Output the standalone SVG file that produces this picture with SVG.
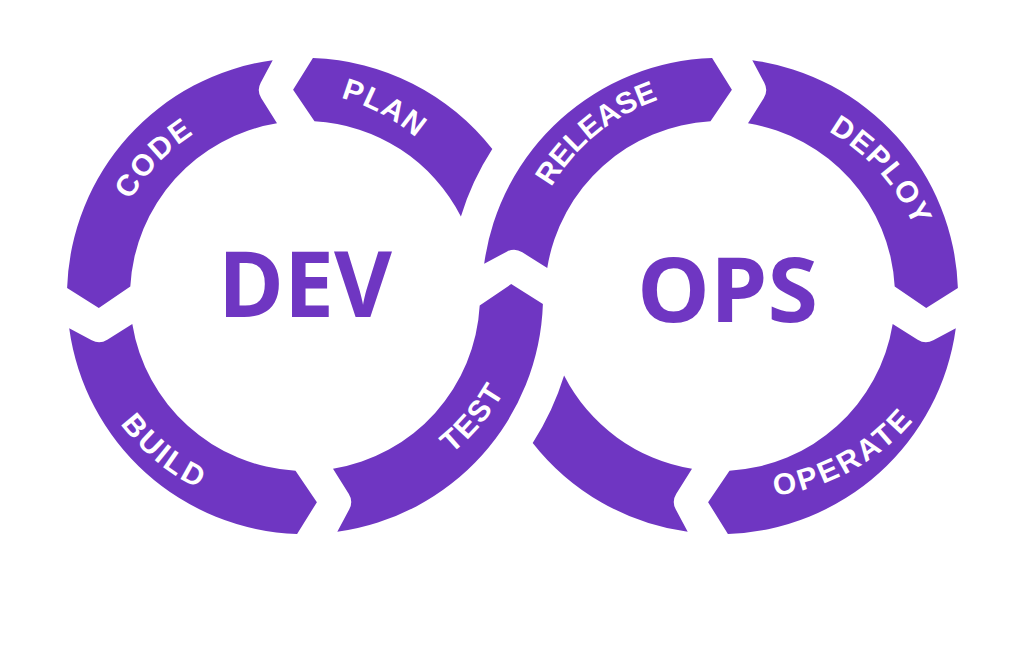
<svg xmlns="http://www.w3.org/2000/svg" width="1024" height="667" viewBox="0 0 1024 667">
  <style>
    .seg { fill: #6F36C2; }
    .lbl { fill: #FFFFFF; font-family: "Liberation Sans", Arial, sans-serif; font-weight: 700; font-size: 30px; text-anchor: middle; dominant-baseline: central; }
    .big { fill: #6F36C2; font-family: "Open Sans", "Liberation Sans", sans-serif; font-weight: 700; }
  </style>
  <defs>
    <path id="arcTop" d="M -210 0 A 210 210 0 0 1 210 0"/>
    <path id="arcBot" d="M -210 0 A 210 210 0 0 0 210 0"/>
  </defs>
  <rect width="1024" height="667" fill="#FFFFFF"/>

  <g id="connectors">
    <g id="plan">
      <path class="seg" d="M 492.3 149.1 A 238 238 0 0 0 312.9 58.1 L 293.1 89.8 L 314.5 121.3 A 175 175 0 0 1 460.9 216.5 A 271 271 0 0 1 492.3 149.1 Z"/>
      <text class="lbl" letter-spacing="2.72" transform="translate(287.52 289.55) rotate(28.24)"><textPath href="#arcTop" startOffset="50%">PLAN</textPath></text>
    </g>
    <g id="code">
      <path class="seg" d="M 272.7 60.2 A 238 238 0 0 0 67.1 288.1 L 98.8 307.9 L 130.3 286.5 A 175 175 0 0 1 277.0 123.3 L 261.3 98.3 Q 256.5 90.7 260.7 82.7 Z"/>
      <text class="lbl" letter-spacing="3.29" transform="translate(301.88 301.02) rotate(-45.81)"><textPath href="#arcTop" startOffset="50%">CODE</textPath></text>
    </g>
    <g id="build">
      <path class="seg" d="M 69.2 328.3 A 238 238 0 0 0 297.1 533.9 L 316.9 502.2 L 295.5 470.7 A 175 175 0 0 1 132.3 324.0 L 107.3 339.7 Q 99.7 344.5 91.7 340.3 Z"/>
      <text class="lbl" letter-spacing="1.57" transform="translate(296.80 290.96) rotate(39.65)"><textPath href="#arcBot" startOffset="50%">BUILD</textPath></text>
    </g>
    <g id="test">
      <path class="seg" d="M 337.3 531.8 A 238 238 0 0 0 542.9 303.9 L 511.2 284.1 L 479.7 305.5 A 175 175 0 0 1 333.0 468.75 L 348.7 493.7 Q 353.5 501.3 349.3 509.3 Z"/>
      <text class="lbl" letter-spacing="0.6" transform="translate(312.53 281.93) rotate(-49.6)"><textPath href="#arcBot" startOffset="50%">TEST</textPath></text>
    </g>
    <g id="release">
      <path class="seg" d="M 484.2 263.7 A 238 238 0 0 1 712.1 58.1 L 731.9 89.8 L 710.5 121.3 A 175 175 0 0 0 547.25 268.0 L 522.3 252.3 Q 514.7 247.5 506.7 251.7 Z"/>
      <text class="lbl" letter-spacing="1.03" transform="translate(723.1 287.94) rotate(-39.16)"><textPath href="#arcTop" startOffset="50%">RELEASE</textPath></text>
    </g>
    <g id="deploy">
      <path class="seg" d="M 752.3 60.2 A 238 238 0 0 1 957.9 288.1 L 926.2 307.9 L 894.7 286.5 A 175 175 0 0 0 748.0 123.3 L 763.7 98.3 Q 768.5 90.7 764.3 82.7 Z"/>
      <text class="lbl" letter-spacing="2.56" transform="translate(731.25 305.32) rotate(48.28)"><textPath href="#arcTop" startOffset="50%">DEPLOY</textPath></text>
    </g>
    <g id="operate">
      <path class="seg" d="M 955.8 328.3 A 238 238 0 0 1 727.9 533.9 L 708.1 502.2 L 729.5 470.7 A 175 175 0 0 0 892.7 324.0 L 917.7 339.7 Q 925.3 344.5 933.3 340.3 Z"/>
      <text class="lbl" letter-spacing="1.83" transform="translate(745.7 276.7) rotate(-28.64)"><textPath href="#arcBot" startOffset="50%">OPERATE</textPath></text>
    </g>
    <g id="monitor">
      <path class="seg" d="M 687.7 531.8 A 238 238 0 0 1 532.7 442.9 A 271 271 0 0 0 564.1 375.5 A 175 175 0 0 0 692.0 468.75 L 676.3 493.7 Q 671.5 501.3 675.7 509.3 Z"/>
    </g>
  </g>

  <g id="dev">
    <text class="big" x="218" y="317" font-size="92" textLength="174" lengthAdjust="spacingAndGlyphs">DEV</text>
  </g>
  <g id="ops">
    <text class="big" x="637" y="322" font-size="90" textLength="181" lengthAdjust="spacingAndGlyphs">OPS</text>
  </g>
</svg>
